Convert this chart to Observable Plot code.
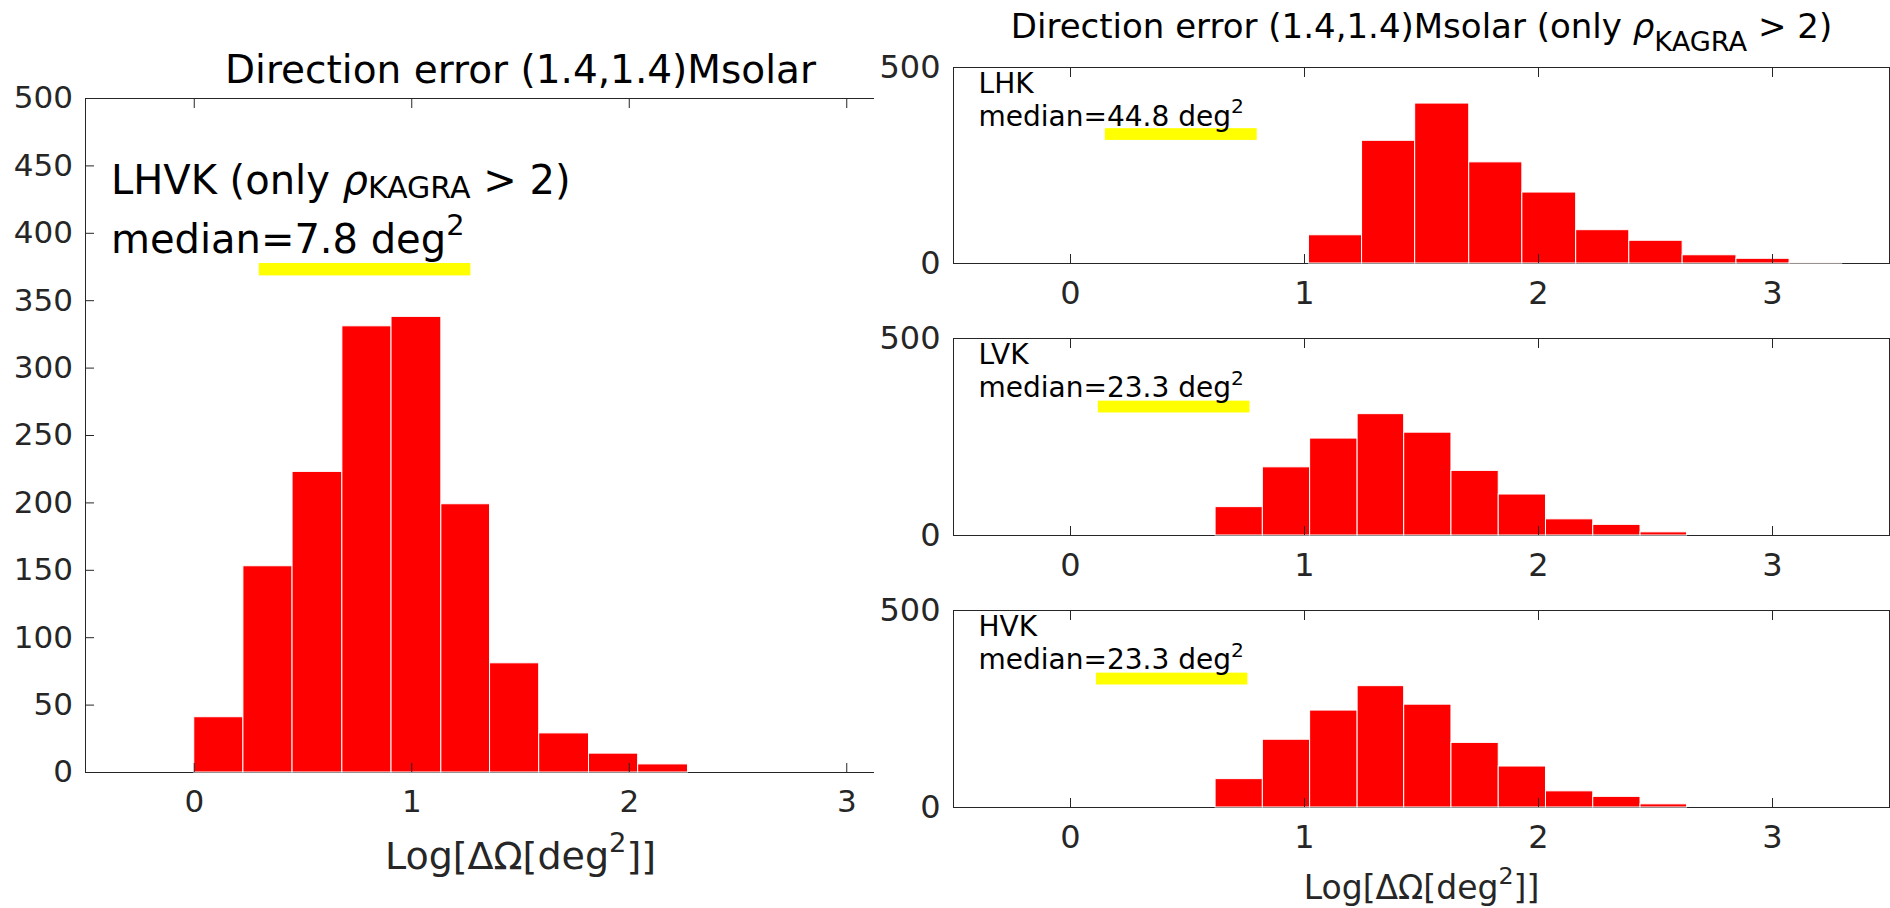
<!DOCTYPE html>
<html><head><meta charset="utf-8">
<script src="https://cdn.jsdelivr.net/npm/d3@7"></script>
<script src="https://cdn.jsdelivr.net/npm/@observablehq/plot@0.6"></script>
<style>
body{margin:0;background:#fff;}
#wrap{position:relative;width:1890px;height:908px;overflow:hidden;background:#fff;}
#wrap svg{position:absolute;}
#cover{position:absolute;left:874px;top:0;width:1016px;height:908px;background:#fff;}
</style></head><body><div id="wrap"></div>
<script>
// ---------- data ----------
const xTicks = [0, 1, 2, 3];
const leftYTicks = [0, 50, 100, 150, 200, 250, 300, 350, 400, 450, 500];
const rightYTicks = [0, 500];

const lhvkEdges = [0, 0.226, 0.452, 0.681, 0.907, 1.136, 1.360, 1.586, 1.815, 2.041, 2.270];
const lhvkCounts = [41, 153, 223, 331, 338, 199, 81, 29, 14, 6];
const lhvkMedian = 7.8;

const lhkEdges = [1.019, 1.246, 1.473, 1.704, 1.931, 2.161, 2.388, 2.616, 2.846, 3.073, 3.298];
const lhkCounts = [72, 313, 408, 258, 181, 85, 58, 21, 12, 1];
const lhkMedian = 44.8;

const lvkEdges = [0.620, 0.822, 1.024, 1.227, 1.426, 1.628, 1.830, 2.032, 2.234, 2.436, 2.635];
const lvkCounts = [72, 173, 246, 308, 261, 164, 104, 41, 27, 8];
const lvkMedian = 23.3;

const hvkEdges = [0.620, 0.822, 1.024, 1.227, 1.426, 1.628, 1.830, 2.032, 2.234, 2.436, 2.635];
const hvkCounts = [72, 172, 246, 308, 261, 164, 104, 41, 27, 8];
const hvkMedian = 23.3;

const leftTitle = "Direction error (1.4,1.4)Msolar";
const leftNote = "LHVK (only ρ_{KAGRA} > 2)";
const rightTitle = "Direction error (1.4,1.4)Msolar (only ρ_{KAGRA} > 2)";
const xLabel = "Log[ΔΩ[deg^{2}]]";
const rightNames = ["LHK", "LVK", "HVK"];

// ---------- helpers ----------
const FONT = "DejaVu Sans";
const AX = "#262626";
const RED = "#ff0000";
const YEL = "#ffff00";
const fmtInt = d3.format("d");
const SVGNS = "http://www.w3.org/2000/svg";

function binsOf(edges, counts) {
  return counts.map((c, i) => ({x1: edges[i], x2: edges[i + 1], count: c}));
}

// Turns "^{..}" / "_{..}" markup into super/subscript tspans, "ρ" into italic, "|" into a new line.
function richify(svg, {subShift = 0.15, subScale = 0.75, supShift = 0.45, supScale = 0.72, lineHeight = 0.8} = {}) {
  svg.querySelectorAll("text").forEach(t => {
    if (t.querySelector("tspan")) return;
    const s = t.textContent;
    if (!/[\^_ρ|]/.test(s)) return;
    t.textContent = "";
    let cur = 0;
    s.split("|").forEach((line, li) => {
      let host = t;
      if (li > 0) {
        host = document.createElementNS(SVGNS, "tspan");
        host.setAttribute("x", "0");
        host.setAttribute("dy", (lineHeight - cur) + "em");
        cur = 0;
        t.appendChild(host);
      }
      const parts = line.split(/(\^\{[^}]*\}|_\{[^}]*\}|ρ)/g).filter(p => p !== "");
      for (const p of parts) {
        const ts = document.createElementNS(SVGNS, "tspan");
        let off = 0, sc = 1, txt = p, italic = false;
        if (p.startsWith("^{")) { off = -supShift; sc = supScale; txt = p.slice(2, -1); }
        else if (p.startsWith("_{")) { off = subShift; sc = subScale; txt = p.slice(2, -1); }
        else if (p === "ρ") { italic = true; }
        ts.textContent = txt;
        if (sc !== 1) ts.setAttribute("font-size", (sc * 100) + "%");
        if (off !== cur) ts.setAttribute("dy", ((off - cur) / sc) + "em");
        if (italic) ts.setAttribute("font-style", "italic");
        cur = off;
        host.appendChild(ts);
      }
    });
  });
  return svg;
}

function boxMarks() {
  return [
    Plot.ruleY([0], {stroke: AX, strokeWidth: 1}),
    Plot.ruleY([500], {stroke: AX, strokeWidth: 1}),
    Plot.ruleX([-0.5], {stroke: AX, strokeWidth: 1}),
    Plot.ruleX([3.5], {stroke: AX, strokeWidth: 1})
  ];
}

function bars(edges, counts) {
  return Plot.rect(binsOf(edges, counts), {
    x1: "x1", x2: "x2", y1: 0, y2: "count",
    fill: RED, stroke: "#ffffff", strokeWidth: 1
  });
}

const wrap = document.getElementById("wrap");
function place(el, left, top) {
  el.style.left = left + "px";
  el.style.top = top + "px";
  wrap.appendChild(el);
}

// ---------- left panel ----------
const leftPlot = Plot.plot({
  width: 955, height: 908,
  marginLeft: 85, marginRight: 0, marginTop: 98, marginBottom: 136,
  x: {domain: [-0.5, 3.5], label: null},
  y: {domain: [0, 500], label: null},
  style: {fontFamily: FONT, fontSize: "31px", background: "white", color: AX},
  marks: [
    ...boxMarks(),
    bars(lhvkEdges, lhvkCounts),
    Plot.axisY(leftYTicks, {anchor: "left", tickSize: -9, tickPadding: 21.5, tickFormat: fmtInt, color: AX, label: null}),
    Plot.axisY(leftYTicks, {anchor: "right", tickSize: -9, tickFormat: () => "", color: AX, label: null}),
    Plot.axisX(xTicks, {anchor: "bottom", tickSize: -9, tickPadding: 26, tickFormat: fmtInt, color: AX, label: null}),
    Plot.axisX(xTicks, {anchor: "top", tickSize: -9, tickFormat: () => "", color: AX, label: null}),
    Plot.rect([0], {x1: 0.299, x2: 1.272, y1: 368.4, y2: 377.6, fill: YEL}),
    Plot.text([leftNote], {x: -0.383, y: 429.5, text: d => d, textAnchor: "start", lineAnchor: "bottom", fontSize: 40, fill: "black"}),
    Plot.text([`median=${lhvkMedian.toFixed(1)} deg^{2}`], {x: -0.383, y: 385.7, text: d => d, textAnchor: "start", lineAnchor: "bottom", fontSize: 40, fill: "black"}),
    Plot.text([leftTitle], {frameAnchor: "top", dy: -16, text: d => d, lineAnchor: "bottom", fontSize: 39, fill: "black"}),
    Plot.text([xLabel], {frameAnchor: "bottom", dy: 96.5, text: d => d, lineAnchor: "bottom", fontSize: 38, fill: AX})
  ]
});
richify(leftPlot, {subShift: 0.12, subScale: 0.75, supShift: 0.45, supScale: 0.72});
place(leftPlot, 0, 0);

// white sheet of the right-hand figure, which hides the cut part of the left axes
const cover = document.createElement("div");
cover.id = "cover";
wrap.appendChild(cover);

// ---------- right panels ----------
const rightSpecs = [
  {name: rightNames[0], edges: lhkEdges, counts: lhkCounts, median: lhkMedian, top: 0, height: 330, mt: 67, mb: 67,
   hl: {x1: 0.149, x2: 0.798, y1: 314, y2: 344}, title: true},
  {name: rightNames[1], edges: lvkEdges, counts: lvkCounts, median: lvkMedian, top: 272, height: 330, mt: 66, mb: 67,
   hl: {x1: 0.119, x2: 0.767, y1: 311, y2: 341}},
  {name: rightNames[2], edges: hvkEdges, counts: hvkCounts, median: hvkMedian, top: 544, height: 364, mt: 66, mb: 101,
   hl: {x1: 0.111, x2: 0.758, y1: 311, y2: 341}, xlabel: true}
];

for (const s of rightSpecs) {
  const marks = [
    ...boxMarks(),
    bars(s.edges, s.counts),
    Plot.axisY(rightYTicks, {anchor: "left", tickSize: -9, tickPadding: 22, tickFormat: fmtInt, color: AX, label: null}),
    Plot.axisY(rightYTicks, {anchor: "right", tickSize: -9, tickFormat: () => "", color: AX, label: null}),
    Plot.axisX(xTicks, {anchor: "bottom", tickSize: -9, tickPadding: 27, tickFormat: fmtInt, color: AX, label: null}),
    Plot.axisX(xTicks, {anchor: "top", tickSize: -9, tickFormat: () => "", color: AX, label: null}),
    Plot.rect([0], {x1: s.hl.x1, x2: s.hl.x2, y1: s.hl.y1, y2: s.hl.y2, fill: YEL}),
    Plot.text([`${s.name}|median=${s.median.toFixed(1)} deg^{2}`], {x: -0.393, y: 435, text: d => d, textAnchor: "start", lineAnchor: "bottom", fontSize: 28, fill: "black"})
  ];
  if (s.title) marks.push(Plot.text([rightTitle], {frameAnchor: "top", dy: -30, text: d => d, lineAnchor: "bottom", fontSize: 34, fill: "black"}));
  if (s.xlabel) marks.push(Plot.text([xLabel], {frameAnchor: "bottom", dy: 91, text: d => d, lineAnchor: "bottom", fontSize: 33, fill: AX}));
  const p = Plot.plot({
    width: 1016, height: s.height,
    marginLeft: 79, marginRight: 1, marginTop: s.mt, marginBottom: s.mb,
    x: {domain: [-0.5, 3.5], label: null},
    y: {domain: [0, 500], label: null},
    style: {fontFamily: FONT, fontSize: "32px", background: "transparent", color: AX, overflow: "visible"},
    marks
  });
  richify(p, {subShift: 0.4, subScale: 0.8, supShift: 0.45, supScale: 0.72, lineHeight: 1.18});
  place(p, 874, s.top);
}
</script>
</body></html>
